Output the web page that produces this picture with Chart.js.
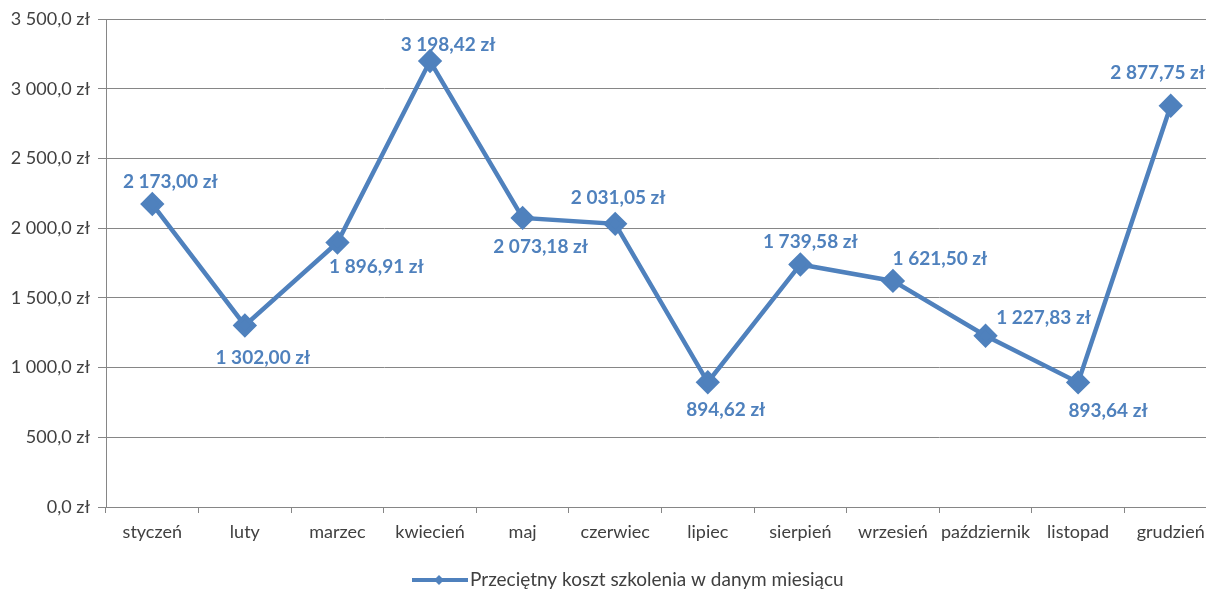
<!DOCTYPE html>
<html>
<head>
<meta charset="utf-8">
<script src="https://cdn.jsdelivr.net/npm/chart.js@4"></script>
<style>
  html, body { margin: 0; padding: 0; background: #fff; overflow: hidden; }
  /* the plot runs a little past the right edge of the picture, as in the original */
  #wrap { width: 1206px; height: 590px; overflow: hidden; }
</style>
</head>
<body>
<div id="wrap"><canvas id="chart-id" width="1217" height="590"></canvas></div>
<script>
// Data //
const months = ["styczeń", "luty", "marzec", "kwiecień", "maj", "czerwiec", "lipiec", "sierpień", "wrzesień", "październik", "listopad", "grudzień"];
const avgCost = [2173.00, 1302.00, 1896.91, 3198.42, 2073.18, 2031.05, 894.62, 1739.58, 1621.50, 1227.83, 893.64, 2877.75];
const yTicks = [0, 500, 1000, 1500, 2000, 2500, 3000, 3500];
const seriesName = "Przeciętny koszt szkolenia w danym miesiącu";

// where each value label sits relative to its point (dx, dy in px)
const labelOffsets = [[18, -22], [18, 32], [39, 24], [18, -16], [18, 29], [3, -26], [18, 28], [10, -23], [47, -22], [58, -18], [30, 28], [-13, -33]];

const blue = "#4f81bd";
const font = "Lato, 'Open Sans', sans-serif";

// Polish money format: "2 173,00 zł"
function zl(v, dec) {
    const parts = v.toFixed(dec).split(".");
    parts[0] = parts[0].replace(/\B(?=(\d{3})+(?!\d))/g, " ");
    return parts.join(",") + " zł";
}

// Value labels + legend drawn on canvas
const extras = {
    id: "extras",
    afterDatasetsDraw(chart) {
        const ctx = chart.ctx;
        const meta = chart.getDatasetMeta(0);
        ctx.save();
        ctx.font = "bold 19px " + font;
        ctx.fillStyle = blue;
        ctx.textAlign = "center";
        ctx.textBaseline = "middle";
        meta.data.forEach((pt, i) => {
            const off = labelOffsets[i];
            ctx.fillText(zl(avgCost[i], 2), pt.x + off[0], pt.y + off[1]);
        });

        // legend
        const ly = 580;
        ctx.strokeStyle = blue;
        ctx.lineWidth = 4;
        ctx.beginPath();
        ctx.moveTo(412, ly);
        ctx.lineTo(468, ly);
        ctx.stroke();
        ctx.fillStyle = blue;
        ctx.beginPath();
        ctx.moveTo(439, ly - 5);
        ctx.lineTo(444, ly);
        ctx.lineTo(439, ly + 5);
        ctx.lineTo(434, ly);
        ctx.closePath();
        ctx.fill();
        ctx.font = "19px " + font;
        ctx.fillStyle = "#404040";
        ctx.textAlign = "left";
        ctx.fillText(seriesName, 470, ly);
        ctx.restore();
    }
};

const canvas2D = document.getElementById("chart-id").getContext("2d");

new Chart(canvas2D, {
    type: "line",
    data: {
        labels: months,
        datasets: [{
            label: seriesName,
            data: avgCost,
            borderColor: blue,
            backgroundColor: blue,
            borderWidth: 4.5,
            pointStyle: "rectRot",
            pointRadius: 9,
            pointHoverRadius: 9,
            tension: 0,
            clip: false
        }]
    },
    options: {
        responsive: false,
        animation: false,
        layout: { autoPadding: false, padding: { top: 19, right: 0, left: 0, bottom: 0 } },
        plugins: {
            legend: { display: false },
            tooltip: { enabled: false }
        },
        scales: {
            x: {
                offset: true,
                grid: {
                    offset: true,
                    drawOnChartArea: false,
                    drawTicks: true,
                    tickLength: 6,
                    color: "#868686"
                },
                border: { color: "#868686", width: 1 },
                ticks: {
                    color: "#404040",
                    font: { family: font, size: 18 },
                    padding: 8,
                    maxRotation: 0,
                    autoSkip: false
                },
                afterFit(s) {
                    s.height = 83;
                    s.paddingLeft = 0;
                    s.paddingRight = 0;
                }
            },
            y: {
                min: 0,
                max: 3500,
                afterBuildTicks(s) { s.ticks = yTicks.map(v => ({ value: v })); },
                grid: {
                    color: "#868686",
                    tickLength: 8,
                    lineWidth: 1
                },
                border: { color: "#868686", width: 1 },
                ticks: {
                    color: "#404040",
                    font: { family: font, size: 18 },
                    padding: 8,
                    callback: v => zl(v, 1)
                },
                afterFit(s) {
                    s.width = 106;
                    s.paddingTop = 0;
                    s.paddingBottom = 0;
                }
            }
        }
    },
    plugins: [extras]
});
</script>
</body>
</html>
